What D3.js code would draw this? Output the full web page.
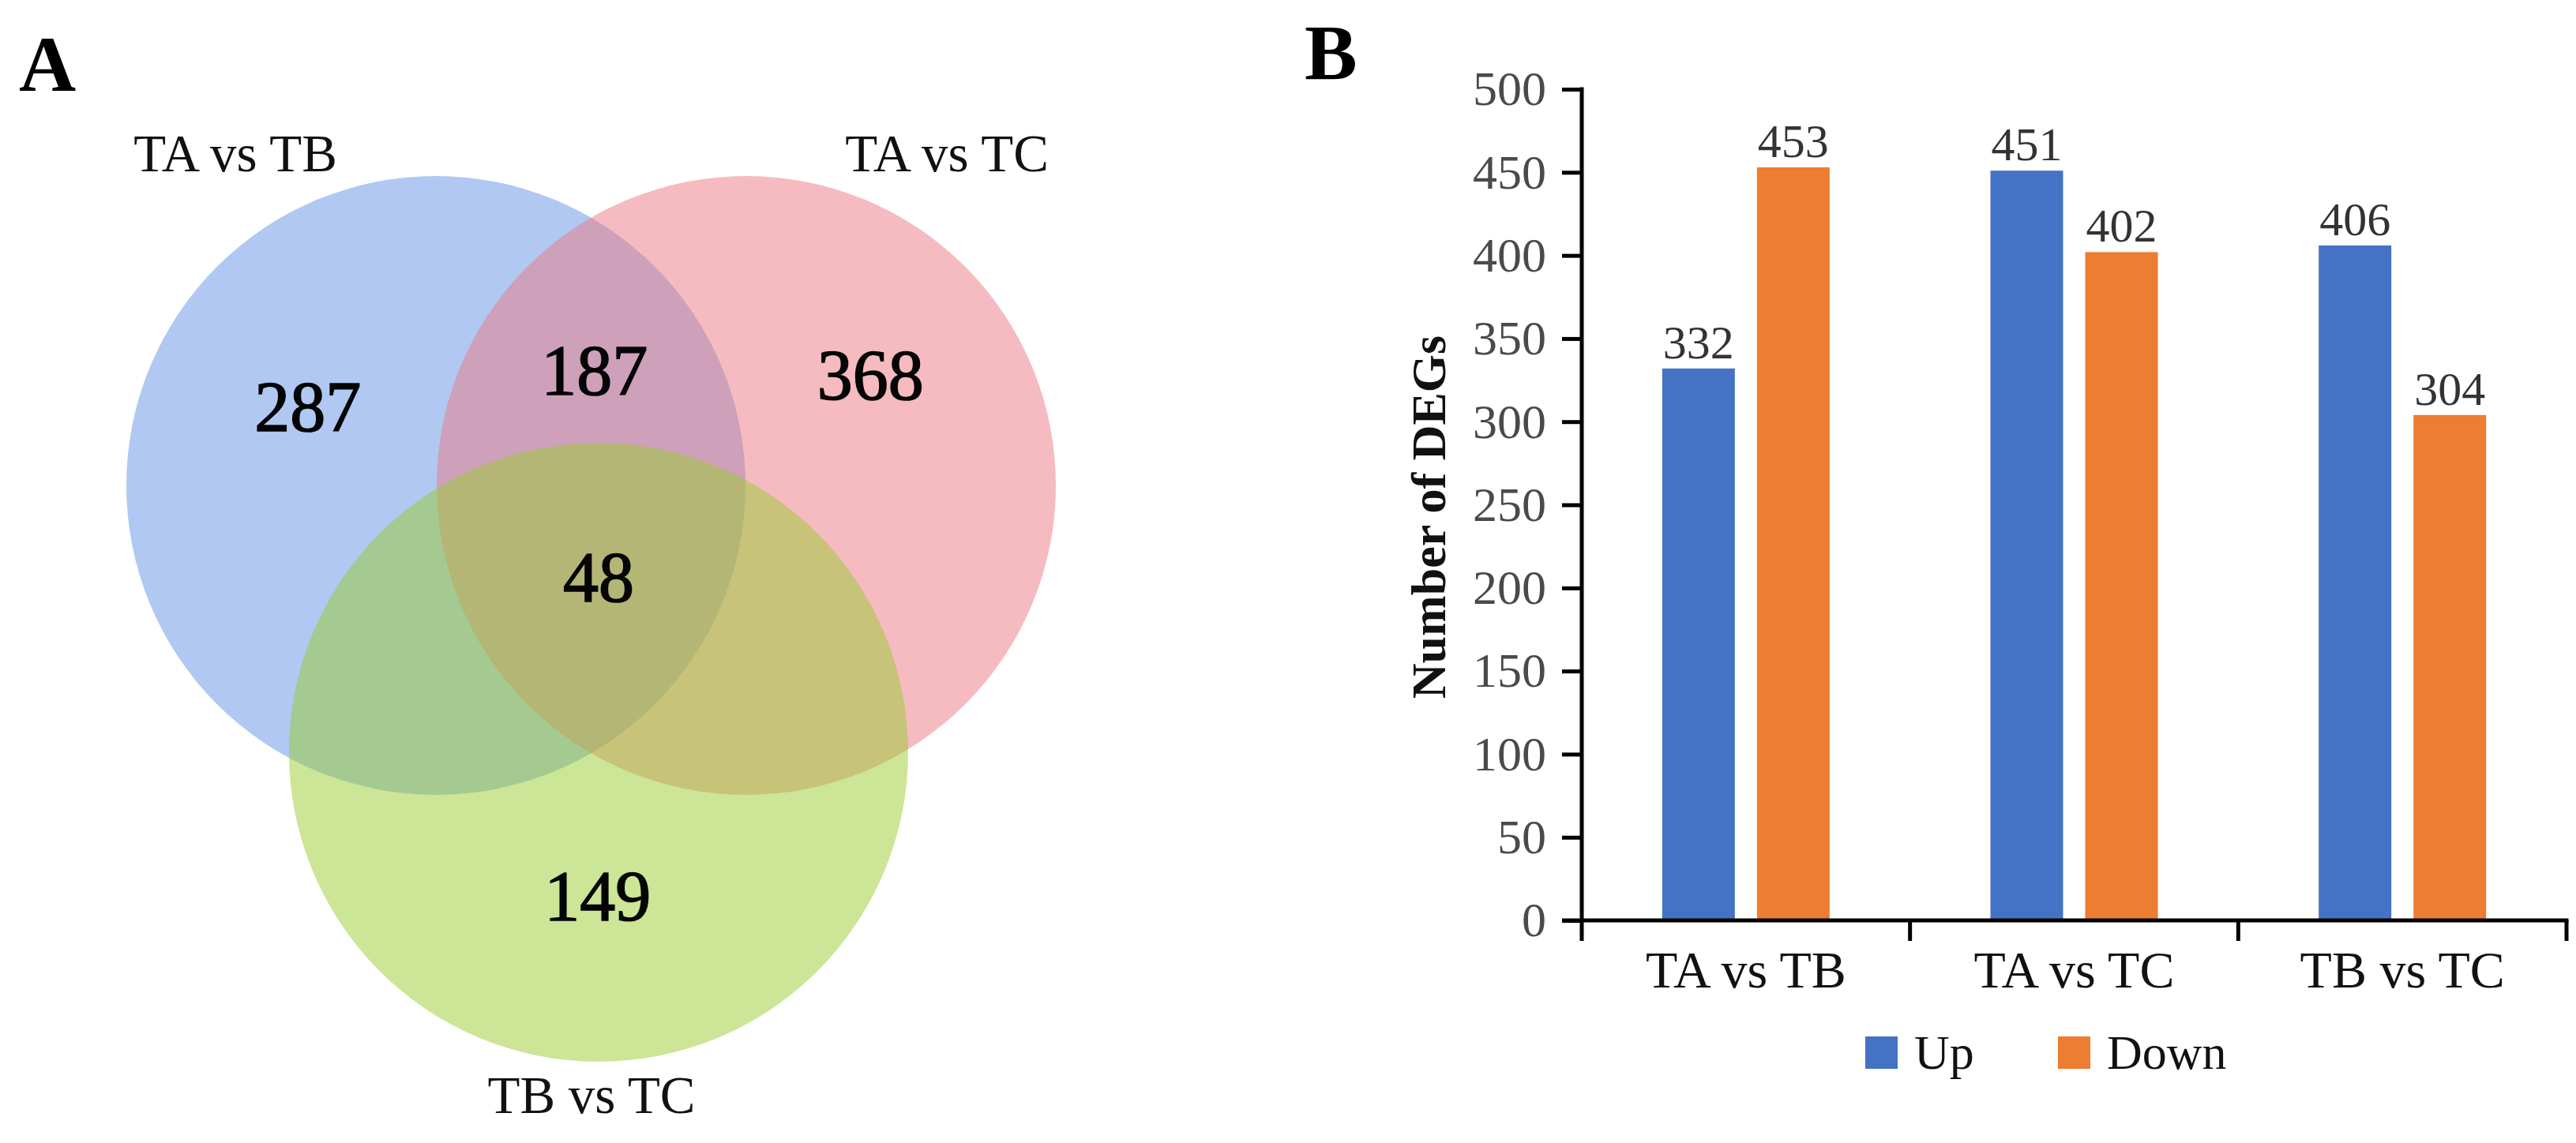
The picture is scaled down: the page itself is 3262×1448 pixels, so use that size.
<!DOCTYPE html>
<html>
<head>
<meta charset="utf-8">
<script src="https://cdn.jsdelivr.net/npm/d3@7/dist/d3.min.js"></script>
<style>
  html, body { margin: 0; padding: 0; background: #ffffff; }
  svg { display: block; }
  text { font-family: "Liberation Serif", "Times New Roman", serif; }
</style>
</head>
<body>
<svg id="chart" width="3262" height="1448"></svg>
<script>
// ---------------- DATA ----------------
// Panel A: Venn diagram
const vennSets = ["TA vs TB", "TA vs TC", "TB vs TC"];
const vennSetColors = ["#6191E5", "#EB7781", "#99CB2F"];
const vennRegions = ["TA vs TB only", "TA vs TB ∩ TA vs TC", "TA vs TC only", "all three", "TB vs TC only"];
const vennCounts = [287, 187, 368, 48, 149];

// Panel B: grouped bar chart
const categories = ["TA vs TB", "TA vs TC", "TB vs TC"];
const seriesNames = ["Up", "Down"];
const upValues = [332, 451, 406];
const downValues = [453, 402, 304];
const seriesColors = ["#4472C4", "#ED7D31"];
const yTicks = [0, 50, 100, 150, 200, 250, 300, 350, 400, 450, 500];
const yAxisTitle = "Number of DEGs";

// ---------------- LAYOUT ----------------
const svg = d3.select("#chart");

// Panel letters
svg.append("text").attr("x", 24).attr("y", 115)
  .attr("font-size", 100).attr("font-weight", "bold").attr("fill", "#000").text("A");
svg.append("text").attr("x", 1652).attr("y", 100)
  .attr("font-size", 100).attr("font-weight", "bold").attr("fill", "#000").text("B");

// ---------- Venn (panel A) ----------
const vx = d3.scaleLinear().domain([0, 1]).range([552, 945]);
const vy = d3.scaleLinear().domain([0, 1]).range([615, 953]);
const vennLayout = [
  { cx: 0,     cy: 0 },
  { cx: 1,     cy: 0 },
  { cx: 0.524, cy: 1 }
];
const vennR = 392;
const vennG = svg.append("g");
vennG.selectAll("circle").data(vennSets).join("circle")
  .attr("cx", (d, i) => vx(vennLayout[i].cx))
  .attr("cy", (d, i) => vy(vennLayout[i].cy))
  .attr("r", vennR)
  .attr("fill", (d, i) => vennSetColors[i])
  .attr("fill-opacity", 0.5);

const setLabelPos = [
  { x: 298, y: 217 },
  { x: 1199, y: 217 },
  { x: 749, y: 1410 }
];
vennG.selectAll("text.setlab").data(vennSets).join("text")
  .attr("class", "setlab")
  .attr("x", (d, i) => setLabelPos[i].x)
  .attr("y", (d, i) => setLabelPos[i].y)
  .attr("text-anchor", "middle")
  .attr("font-size", 67).attr("fill", "#111")
  .text(d => d);

const regionPos = [
  { x: -0.413, y: -0.205 },
  { x: 0.511,  y: -0.34 },
  { x: 1.4,    y: -0.322 },
  { x: 0.524,  y: 0.435 },
  { x: 0.521,  y: 1.63 }
];
vennG.selectAll("text.count").data(vennCounts).join("text")
  .attr("class", "count")
  .attr("x", (d, i) => vx(regionPos[i].x))
  .attr("y", (d, i) => vy(regionPos[i].y))
  .attr("text-anchor", "middle")
  .attr("font-size", 90).attr("fill", "#050505")
  .attr("stroke", "#050505").attr("stroke-width", 1.6)
  .text(d => d);

// ---------- Bar chart (panel B) ----------
const x0 = 2003, x1 = 3250, yTop = 113, yBot = 1166;
const x = d3.scaleBand().domain(categories).range([x0, x1]).paddingInner(0).paddingOuter(0);
const bw = x.bandwidth();
const xi = d3.scaleBand().domain(seriesNames).range([bw / 2 - 106, bw / 2 + 106]).paddingInner(0.2333);
const y = d3.scaleLinear().domain([0, 500]).range([yBot, yTop]);

const barData = [];
categories.forEach((c, i) => {
  barData.push({ cat: c, s: "Up", v: upValues[i], color: seriesColors[0] });
  barData.push({ cat: c, s: "Down", v: downValues[i], color: seriesColors[1] });
});

const barG = svg.append("g");
barG.selectAll("rect").data(barData).join("rect")
  .attr("x", d => x(d.cat) + xi(d.s))
  .attr("y", d => y(d.v))
  .attr("width", xi.bandwidth())
  .attr("height", d => y(0) - y(d.v))
  .attr("fill", d => d.color);

barG.selectAll("text.val").data(barData).join("text")
  .attr("class", "val")
  .attr("x", d => x(d.cat) + xi(d.s) + xi.bandwidth() / 2)
  .attr("y", d => y(d.v) - 13)
  .attr("text-anchor", "middle")
  .attr("font-size", 60).attr("fill", "#333")
  .text(d => d.v);

// y axis
const yAxis = d3.axisLeft(y).tickValues(yTicks).tickSize(25).tickSizeOuter(0).tickPadding(20);
const yg = svg.append("g").attr("transform", `translate(${x0},0)`).call(yAxis);
yg.select(".domain").remove();
yg.selectAll(".tick line").attr("stroke", "#000").attr("stroke-width", 5);
yg.selectAll(".tick text")
  .attr("font-family", "Liberation Serif, Times New Roman, serif")
  .attr("font-size", 62).attr("fill", "#4a4a4a");
yg.append("line").attr("x1", 0).attr("x2", 0).attr("y1", y(500) - 2.5).attr("y2", y(0) + 26)
  .attr("stroke", "#000").attr("stroke-width", 5);

// x axis
const xg = svg.append("g");
xg.append("line").attr("x1", x0 - 25).attr("x2", x1 + 2.5).attr("y1", y(0)).attr("y2", y(0))
  .attr("stroke", "#000").attr("stroke-width", 5);
const bounds = categories.map(c => x(c)).concat([x1]);
xg.selectAll("line.sep").data(bounds.slice(1)).join("line")
  .attr("class", "sep")
  .attr("x1", d => d).attr("x2", d => d)
  .attr("y1", y(0)).attr("y2", y(0) + 26)
  .attr("stroke", "#000").attr("stroke-width", 5);
xg.selectAll("text.cat").data(categories).join("text")
  .attr("class", "cat")
  .attr("x", d => x(d) + bw / 2)
  .attr("y", 1251)
  .attr("text-anchor", "middle")
  .attr("font-size", 66).attr("fill", "#111")
  .text(d => d);

// y axis title
svg.append("text")
  .attr("transform", `translate(1830, 655) rotate(-90)`)
  .attr("text-anchor", "middle")
  .attr("font-size", 62).attr("font-weight", "bold").attr("fill", "#111")
  .text(yAxisTitle);

// legend
const legendPos = [2362, 2606];
const lg = svg.append("g");
lg.selectAll("rect").data(seriesNames).join("rect")
  .attr("x", (d, i) => legendPos[i]).attr("y", 1313)
  .attr("width", 41).attr("height", 41)
  .attr("fill", (d, i) => seriesColors[i]);
lg.selectAll("text").data(seriesNames).join("text")
  .attr("x", (d, i) => legendPos[i] + 62).attr("y", 1354)
  .attr("font-size", 62).attr("fill", "#111")
  .text(d => d);
</script>
</body>
</html>
